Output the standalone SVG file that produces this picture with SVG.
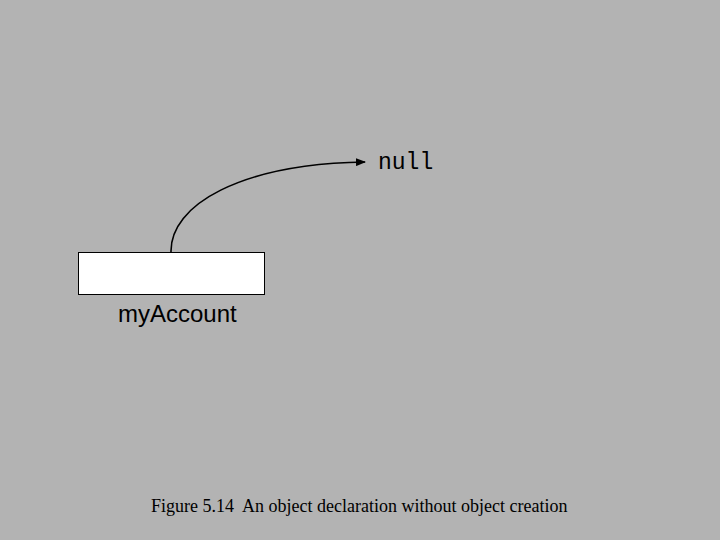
<svg xmlns="http://www.w3.org/2000/svg" width="720" height="540" viewBox="0 0 720 540">
<style>
.lbl{font-family:"Liberation Sans",Arial,sans-serif;font-size:24px;fill:#000}
.mono{font-family:"Liberation Mono","Courier New",monospace;font-size:23px;fill:#000}
.cap{font-family:"Liberation Serif","Times New Roman",serif;font-size:18px;fill:#000}
.conn{fill:none;stroke:#000;stroke-width:1.6}
</style>
<defs>
<marker id="ah" markerWidth="10" markerHeight="8" refX="9" refY="4" orient="auto" markerUnits="userSpaceOnUse">
<path d="M0,0 L10,4 L0,8 Z" fill="#000"/>
</marker>
</defs>
<rect width="720" height="540" fill="#b3b3b3"/>
<g id="connectors">
<path class="conn" d="M171,252 C170,205 240,164 365,162" marker-end="url(#ah)"/>
</g>
<g id="null">
<text class="mono" x="378" y="169">null</text>
</g>
<g id="myAccount">
<rect x="78.5" y="252.5" width="186" height="42" fill="#fff" stroke="#000" stroke-width="1"/>
<text class="lbl" x="118" y="322">myAccount</text>
</g>
<g id="caption">
<text class="cap" x="151" y="512" xml:space="preserve">Figure 5.14  An object declaration without object creation</text>
</g>
</svg>
